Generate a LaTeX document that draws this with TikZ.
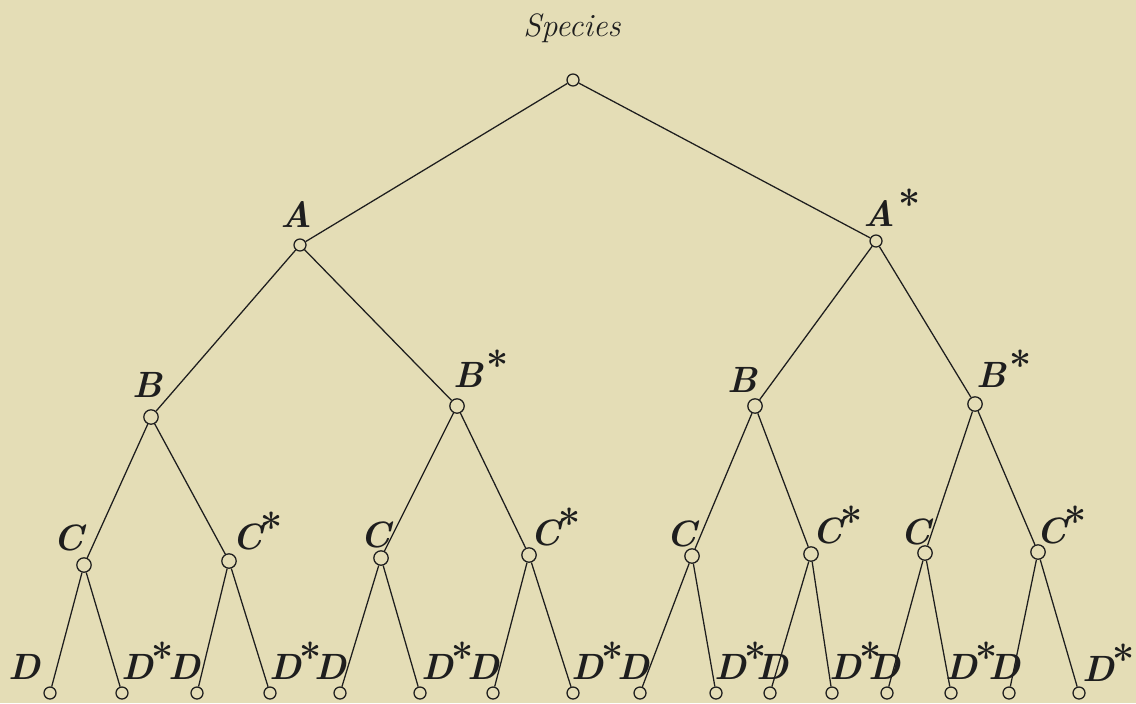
\documentclass[tikz,border=0pt]{standalone}
\definecolor{paperTone}{HTML}{E4DDB6}
\definecolor{inkTone}{HTML}{1E1E1E}
\newcommand{\starsup}{\kern-1.5pt\raisebox{5.5pt}{\fontsize{28}{28}\selectfont\bfseries\upshape *}}

\begin{document}
\begin{tikzpicture}[x=0.025cm,y=-0.025cm,
  dot/.style={circle,draw=inkTone,line width=0.9pt,inner sep=0pt,minimum size=0.3cm},
  bigdot/.style={dot,minimum size=0.36cm},
  lbl/.style={inner sep=0pt,text=inkTone,font=\fontsize{26}{30}\selectfont\bfseries\itshape},
  branch/.style={draw=inkTone,line width=0.9pt}]
  \fill[paperTone] (0,0) rectangle (1136,703);
  \useasboundingbox (0,0) rectangle (1136,703);
  % root
  \node[anchor=base,inner sep=0pt,text=inkTone,font=\fontsize{23}{26}\selectfont\itshape] (species) at (572,37) {Species};
  \node[dot] (root) at (573,80) {};
  % A level
  \node[dot] (a) at (300,245) {};
  \node[lbl,anchor=base] (aL) at (296,227) {A};
  \node[dot] (as) at (876,241) {};
  \node[lbl,anchor=base west] (asL) at (863,226) {A\kern4pt\starsup};
  % B level
  \node[bigdot] (b1) at (151,417) {};
  \node[lbl,anchor=base] (b1L) at (147,397) {B};
  \node[bigdot] (bs1) at (457,406) {};
  \node[lbl,anchor=base west] (bs1L) at (453,387) {B\kern4pt\starsup};
  \node[bigdot] (b2) at (755,406) {};
  \node[lbl,anchor=base] (b2L) at (742,392) {B};
  \node[bigdot] (bs2) at (975,404) {};
  \node[lbl,anchor=base west] (bs2L) at (976,387) {B\kern4pt\starsup};
  % C level
  \node[bigdot] (c1) at (84,565) {};
  \node[lbl,anchor=base] (c1L) at (69,550) {C};
  \node[bigdot] (cs1) at (229,561) {};
  \node[lbl,anchor=base west] (cs1L) at (232,549) {C\starsup};
  \node[bigdot] (c2) at (381,558) {};
  \node[lbl,anchor=base] (c2L) at (376,547) {C};
  \node[bigdot] (cs2) at (529,555) {};
  \node[lbl,anchor=base west] (cs2L) at (530,545) {C\starsup};
  \node[bigdot] (c3) at (692,556) {};
  \node[lbl,anchor=base] (c3L) at (682,546) {C};
  \node[bigdot] (cs3) at (811,554) {};
  \node[lbl,anchor=base west] (cs3L) at (812,543) {C\starsup};
  \node[bigdot] (c4) at (925,553) {};
  \node[lbl,anchor=base] (c4L) at (916,544) {C};
  \node[bigdot] (cs4) at (1038,552) {};
  \node[lbl,anchor=base west] (cs4L) at (1036,543) {C\starsup};
  % D level
  \node[dot] (d1) at (50,693) {};
  \node[lbl,anchor=base] (d1L) at (25,679) {D};
  \node[dot] (ds1) at (122,693) {};
  \node[lbl,anchor=base west] (ds1L) at (121,679) {D\starsup};
  \node[dot] (d2) at (197,693) {};
  \node[lbl,anchor=base] (d2L) at (185,679) {D};
  \node[dot] (ds2) at (270,693) {};
  \node[lbl,anchor=base west] (ds2L) at (269,679) {D\starsup};
  \node[dot] (d3) at (340,693) {};
  \node[lbl,anchor=base] (d3L) at (331,679) {D};
  \node[dot] (ds3) at (420,693) {};
  \node[lbl,anchor=base west] (ds3L) at (421,679) {D\starsup};
  \node[dot] (d4) at (493,693) {};
  \node[lbl,anchor=base] (d4L) at (484,679) {D};
  \node[dot] (ds4) at (573,693) {};
  \node[lbl,anchor=base west] (ds4L) at (571,679) {D\starsup};
  \node[dot] (d5) at (640,693) {};
  \node[lbl,anchor=base] (d5L) at (634,679) {D};
  \node[dot] (ds5) at (716,693) {};
  \node[lbl,anchor=base west] (ds5L) at (714,679) {D\starsup};
  \node[dot] (d6) at (770,693) {};
  \node[lbl,anchor=base] (d6L) at (773,679) {D};
  \node[dot] (ds6) at (832,693) {};
  \node[lbl,anchor=base west] (ds6L) at (829,679) {D\starsup};
  \node[dot] (d7) at (887,693) {};
  \node[lbl,anchor=base] (d7L) at (885,679) {D};
  \node[dot] (ds7) at (951,693) {};
  \node[lbl,anchor=base west] (ds7L) at (945,679) {D\starsup};
  \node[dot] (d8) at (1009,693) {};
  \node[lbl,anchor=base] (d8L) at (1004,679) {D};
  \node[dot] (ds8) at (1079,693) {};
  \node[lbl,anchor=base west] (ds8L) at (1082,681) {D\starsup};
  % branches
  \draw[branch] (root) -- (a);
  \draw[branch] (root) -- (as);
  \draw[branch] (a) -- (b1);
  \draw[branch] (a) -- (bs1);
  \draw[branch] (as) -- (b2);
  \draw[branch] (as) -- (bs2);
  \draw[branch] (b1) -- (c1);
  \draw[branch] (b1) -- (cs1);
  \draw[branch] (bs1) -- (c2);
  \draw[branch] (bs1) -- (cs2);
  \draw[branch] (b2) -- (c3);
  \draw[branch] (b2) -- (cs3);
  \draw[branch] (bs2) -- (c4);
  \draw[branch] (bs2) -- (cs4);
  \draw[branch] (c1) -- (d1);
  \draw[branch] (c1) -- (ds1);
  \draw[branch] (cs1) -- (d2);
  \draw[branch] (cs1) -- (ds2);
  \draw[branch] (c2) -- (d3);
  \draw[branch] (c2) -- (ds3);
  \draw[branch] (cs2) -- (d4);
  \draw[branch] (cs2) -- (ds4);
  \draw[branch] (c3) -- (d5);
  \draw[branch] (c3) -- (ds5);
  \draw[branch] (cs3) -- (d6);
  \draw[branch] (cs3) -- (ds6);
  \draw[branch] (c4) -- (d7);
  \draw[branch] (c4) -- (ds7);
  \draw[branch] (cs4) -- (d8);
  \draw[branch] (cs4) -- (ds8);
\end{tikzpicture}
\end{document}
